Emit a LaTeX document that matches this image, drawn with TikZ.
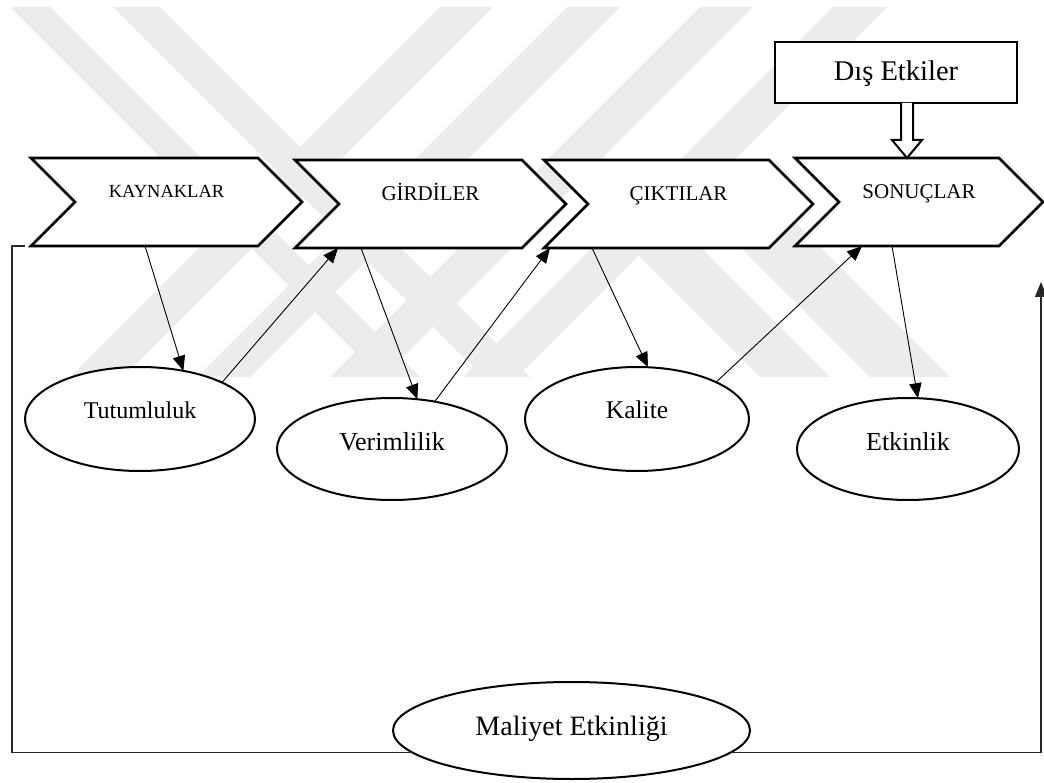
\documentclass[tikz,border=0pt]{standalone}
\usepackage{fontspec}
\setmainfont{Liberation Serif}
\usetikzlibrary{shapes.geometric,arrows.meta,calc}
\pgfdeclarelayer{back}
\pgfsetlayers{back,main}
\definecolor{wmgrey}{gray}{0.925}

\tikzset{
  every node/.style={outer sep=0pt},
  chevbox/.style={rectangle, inner sep=0pt, minimum height=88pt, text height=0pt},
  chevline/.style={line width=2.6pt, line join=miter, fill=white},
  oval/.style={ellipse, draw, line width=2pt, inner sep=0pt, fill=white},
  link/.style={line width=0.9pt, -{Triangle[length=15pt,width=12.5pt]}},
  loopline/.style={line width=1.2pt, black!85},
  band/.style={fill=wmgrey, draw=none},
}
% arrow-shaped outline around a chevron box (notch on the left, point on the right)
\newcommand\drawchevron[1]{%
  \draw[chevline] (#1.north west) -- ([xshift=-44pt]#1.north east) -- (#1.east)
    -- ([xshift=-44pt]#1.south east) -- (#1.south west) -- ([xshift=44pt]#1.west) -- cycle;}

\begin{document}
\begin{tikzpicture}[x=1pt,y=-1pt]
\useasboundingbox (0,0) rectangle (1044,783);

% process stages
\node[chevbox, minimum width=271pt, text depth=8pt, font=\fontsize{18.5}{20}\selectfont] (kay) at (166.5,202) {KAYNAKLAR};
\node[chevbox, minimum width=271pt, text depth=6pt, font=\fontsize{21}{23}\selectfont] (gir) at (430.5,204) {GİRDİLER};
\node[chevbox, minimum width=269pt, text depth=6pt, font=\fontsize{21}{23}\selectfont] (cik) at (678.5,204) {ÇIKTILAR};
\node[chevbox, minimum width=248pt, text depth=6pt, font=\fontsize{21}{23}\selectfont] (son) at (919,202) {SONUÇLAR};

% external influences
\node[draw, line width=2.5pt, fill=white, inner sep=0pt, minimum width=242pt, minimum height=61pt,
      text height=17pt, text depth=0pt, font=\fontsize{28.5}{30}\selectfont] (dis) at (896,72.5) {Dış Etkiler};

% performance criteria
\node[oval, minimum width=230pt, minimum height=104pt, text height=0pt, text depth=2pt, font=\fontsize{24}{26}\selectfont] (tut) at (140,419) {Tutumluluk};
\node[oval, minimum width=230pt, minimum height=102pt, text height=2pt, text depth=0pt, font=\fontsize{26}{28}\selectfont] (ver) at (392,449) {Verimlilik};
\node[oval, minimum width=224pt, minimum height=104pt, text height=0pt, text depth=2pt, font=\fontsize{25.5}{27}\selectfont] (kal) at (637,419) {Kalite};
\node[oval, minimum width=222pt, minimum height=102pt, text height=2pt, text depth=0pt, font=\fontsize{26}{28}\selectfont] (etk) at (908,449) {Etkinlik};
\node[oval, minimum width=357pt, minimum height=97pt, text height=10pt, text depth=0pt, font=\fontsize{28}{30}\selectfont] (mal) at (571.5,730.5) {Maliyet Etkinliği};

% background stripes and stage outlines
\begin{pgfonlayer}{back}
  \begin{scope}
    \clip (0,7) rectangle (1044,377);
    \fill[band] (10,7) -- (50,7) -- (420,377) -- (380,377) -- cycle;
    \fill[band] (113,7) -- (160,7) -- (530,377) -- (483,377) -- cycle;
    \fill[band] (440,7) -- (493,7) -- (123,377) -- (70,377) -- cycle;
    \fill[band] (567,7) -- (620,7) -- (250,377) -- (197,377) -- cycle;
    \fill[band] (700,7) -- (753,7) -- (383,377) -- (330,377) -- cycle;
    \fill[band] (833,7) -- (887,7) -- (517,377) -- (463,377) -- cycle;
    \fill[band] (593,210) -- (663,210) -- (830,377) -- (760,377) -- cycle;
    \fill[band] (703,210) -- (783,210) -- (950,377) -- (870,377) -- cycle;
  \end{scope}
  \drawchevron{kay}
  \drawchevron{gir}
  \drawchevron{cik}
  \drawchevron{son}
\end{pgfonlayer}

% hollow arrow from the external influences into the outcomes
\draw[line width=2pt, fill=white, line join=miter]
  ($(dis.south)+(5,0)$) -- ++(0,37) -- ++(-9,0) -- ($(son.north)+(-12,0)$)
  -- ++(15,-18) -- ++(-9,0) -- ++(0,-37);

% stage / criterion links
\draw[link] ($(kay.center)+(-21.5,44)$) -- (tut.48);
\draw[link] (tut.24) -- ($(gir.center)+(-92.5,44)$);
\draw[link] ($(gir.center)+(-69.5,44)$) -- (ver.63);
\draw[link] (ver.48) -- ($(cik.center)+(-128.5,44)$);
\draw[link] ($(cik.center)+(-86.5,44)$) -- (kal.78);
\draw[link] (kal.25) -- ($(son.center)+(-57,44)$);
\draw[link] ($(son.center)+(-27,44)$) -- (etk.79);

% cost-effectiveness loop
\coordinate (ltop) at (12,246);
\coordinate (lend) at (25,246);
\coordinate (rtip) at (1041,282);
\draw[loopline] (mal.188) -| (ltop) -- (lend);
\draw[loopline, -{Triangle[length=15pt,width=12pt]}] (mal.352) -| (rtip);
\end{tikzpicture}
\end{document}
